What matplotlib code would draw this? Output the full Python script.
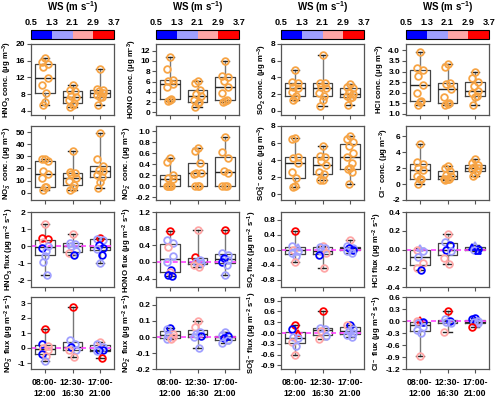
import matplotlib
matplotlib.use("Agg")
import matplotlib.pyplot as plt
import numpy as np
from matplotlib.colors import ListedColormap, BoundaryNorm
from matplotlib.cm import ScalarMappable
from matplotlib.ticker import FormatStrFormatter

plt.rcParams['font.family'] = ['Liberation Sans', 'DejaVu Sans']
plt.rcParams['font.weight'] = 'bold'
plt.rcParams['mathtext.fontset'] = 'custom'
plt.rcParams['mathtext.rm'] = 'Liberation Sans:bold'
plt.rcParams['mathtext.bf'] = 'Liberation Sans:bold'
plt.rcParams['mathtext.it'] = 'Liberation Sans:bold'
plt.rcParams['mathtext.default'] = 'bf'

periods = ['08:00-\n12:00', '12:30-\n16:30', '17:00-\n21:00']
ws_edges = [0.5, 1.3, 2.1, 2.9, 3.7]
ws_colors = ['#0000ff', '#a0a0ff', '#ffa6a6', '#ff0000']

# concentrations (one list per time window)
hno3_conc = [[16.7, 15.6, 15.2, 14.6, 11.8, 10.1, 8.2, 6.0, 5.5],
             [10.3, 9.0, 8.8, 7.6, 7.2, 6.5, 5.9, 5.5, 4.8],
             [14.0, 9.2, 9.0, 8.8, 8.3, 7.8, 7.4, 7.2, 5.4]]
hono_conc = [[10.7, 8.5, 6.4, 6.2, 5.5, 5.0, 2.6, 2.5, 2.2],
             [6.1, 5.8, 4.4, 3.6, 3.2, 2.4, 2.0, 1.8, 1.0],
             [10.0, 7.1, 6.9, 6.2, 4.9, 3.7, 2.5, 2.3, 2.0]]
so2_conc = [[4.9, 3.4, 3.3, 2.8, 2.7, 2.2, 1.8, 1.5, 1.3],
            [6.7, 3.3, 3.3, 2.8, 2.7, 2.1, 1.8, 1.3, 0.6],
            [3.2, 2.8, 2.7, 2.3, 2.0, 1.8, 1.6, 1.5, 0.7]]
hcl_conc = [[3.9, 3.15, 3.05, 2.8, 2.35, 2.0, 1.6, 1.55, 1.4],
            [3.35, 3.2, 2.45, 2.4, 2.2, 1.8, 1.5, 1.45, 1.4],
            [3.0, 2.7, 2.5, 2.3, 2.1, 2.0, 1.85, 1.8, 1.4]]
no3_conc = [[28, 27.5, 26, 18, 15.5, 12.5, 5, 4.5, 2],
            [34, 17, 16.5, 15.5, 12.5, 10, 6, 4, 2.5],
            [49, 27.5, 22, 19, 18, 15, 13, 9, 4]]
no2_conc = [[0.52, 0.45, 0.2, 0.15, 0.13, 0.0, 0.0, 0.0, 0.0],
            [0.70, 0.65, 0.43, 0.25, 0.24, 0.22, 0.0, 0.0, 0.0],
            [0.90, 0.62, 0.51, 0.28, 0.24, 0.0, 0.0, 0.0]]
so4_conc = [[6.6, 6.5, 4.4, 4.2, 3.6, 2.6, 1.9, 0.9, 0.8],
            [5.6, 4.5, 4.3, 3.9, 3.4, 2.6, 2.4, 1.7, 1.6],
            [6.8, 6.5, 6.1, 5.7, 4.8, 4.3, 3.6, 3.1, 2.9, 2.6, 1.2]]
cl_conc = [[5.1, 2.8, 2.5, 2.0, 1.8, 1.0, 0.7, 0.6, 0.0],
           [2.3, 2.0, 1.6, 1.1, 1.0, 0.7, 0.65, 0.6, 0.5],
           [3.2, 2.6, 2.4, 2.1, 2.0, 1.9, 1.6, 1.3, 1.0]]

# fluxes, with wind-speed class (0..3) of every point
hno3_flux = [[1.28, 0.45, 0.42, 0.25, 0.0, -0.1, -0.3, -0.6, -0.92, -1.7],
             [0.7, 0.2, 0.15, 0.0, -0.3, -0.4, -0.55],
             [0.5, 0.42, 0.38, 0.05, -0.1, -0.15, -0.5, -1.0]]
hno3_ws = [[2, 3, 3, 2, 1, 0, 1, 1, 1, 1], [2, 1, 1, 1, 1, 2, 0], [3, 1, 1, 0, 0, 1, 0, 1]]
hono_flux = [[0.75, 0.53, 0.45, 0.35, 0.15, 0.0, -0.18, -0.25, -0.3, -0.33],
             [0.78, 0.12, 0.05, 0.0, -0.03, -0.08, -0.12],
             [0.76, 0.21, 0.18, 0.1, 0.05, 0.0, -0.07, -0.3]]
hono_ws = [[3, 1, 1, 2, 1, 1, 0, 2, 0, 0], [2, 3, 1, 1, 1, 2, 2], [3, 1, 1, 0, 1, 0, 1, 1]]
so2_flux = [[0.5, 0.1, 0.07, 0.0, -0.05, -0.1, -0.18, -0.32],
            [0.1, 0.08, 0.03, -0.05, -0.1, -0.15, -0.48],
            [0.26, 0.1, 0.05, 0.03, 0.0, -0.05, -0.1]]
so2_ws = [[3, 1, 1, 2, 1, 1, 1, 2], [2, 1, 1, 1, 2, 0, 2], [2, 1, 1, 0, 0, 1, 1]]
so2_tri = [[2], [], []]
hcl_flux = [[0.02, 0.0, -0.02, -0.08, -0.14, -0.2, -0.22],
            [0.17, 0.08, 0.05, 0.0, -0.02, -0.09, -0.15],
            [0.05, 0.03, 0.01, 0.0, -0.02]]
hcl_ws = [[1, 2, 1, 1, 2, 2, 0], [2, 1, 0, 0, 1, 2, 2], [1, 0, 0, 1, 0]]
hcl_tri = [[0], [], [0, 1, 4]]
no3_flux = [[1.25, 0.3, 0.15, 0.0, -0.1, -0.4, -0.5, -0.85],
            [2.75, 0.52, 0.3, 0.1, -0.1, -0.15, -0.6],
            [0.4, 0.3, 0.1, -0.1, -0.15, -0.2, -0.65]]
no3_ws = [[3, 0, 2, 2, 2, 0, 2, 1], [3, 1, 1, 0, 1, 2, 2], [2, 1, 1, 0, 0, 1, 3]]
no2_flux = [[0.055, 0.05, 0.02, 0.01, 0.0, -0.01, -0.015],
            [0.1, 0.06, 0.03, 0.02, 0.005, 0.0, -0.07],
            [0.03, 0.01, 0.005, -0.005, -0.02, -0.04]]
no2_ws = [[0, 1, 2, 1, 2, 1, 2], [2, 2, 1, 1, 0, 1, 1], [1, 1, 0, 0, 1, 1]]
so4_flux = [[0.23, 0.12, 0.0, -0.1, -0.15, -0.25, -0.35, -0.62],
            [0.6, 0.15, 0.1, 0.05, -0.08, -0.18],
            [0.23, 0.22, 0.1, 0.05, 0.0, -0.05, -0.12]]
so4_ws = [[3, 0, 3, 1, 1, 2, 1, 2], [3, 1, 1, 2, 1, 2], [0, 2, 1, 1, 1, 1, 1]]
so4_tri = [[2], [], []]
cl_flux = [[0.03, 0.0, -0.02, -0.05, -0.15, -0.22, -0.3, -0.87],
           [0.26, 0.05, 0.0, -0.02, -0.05, -0.27],
           [0.08, 0.04, 0.0, -0.03, -0.06, -0.15]]
cl_ws = [[3, 2, 0, 1, 1, 1, 1, 2], [3, 1, 0, 1, 1, 2], [0, 0, 1, 1, 1, 3]]
cl_tri = [[0], [], []]

unit_c = ' conc. (μg m$^{-3}$)'
unit_f = ' flux (μg m$^{-2}$ s$^{-1}$)'
conc_panels = [
    [(hno3_conc, 'HNO$_3$', (3, 20), np.arange(4, 21, 4), '%d'),
     (hono_conc, 'HONO', (-0.5, 13.3), np.arange(0, 13, 2), '%d'),
     (so2_conc, 'SO$_2$', (-0.5, 8), np.arange(0, 9, 2), '%d'),
     (hcl_conc, 'HCl', (0.95, 4.3), np.arange(1, 4.01, 0.5), '%.1f')],
    [(no3_conc, 'NO$_3^-$', (-6, 55), np.arange(0, 51, 10), '%d'),
     (no2_conc, 'NO$_2^-$', (-0.25, 1.1), np.arange(-0.2, 1.01, 0.2), '%.1f'),
     (so4_conc, 'SO$_4^{2-}$', (-0.7, 8), np.arange(0, 9, 2), '%d'),
     (cl_conc, 'Cl$^-$', (-2, 7.3), np.arange(-2, 7, 2), '%d')],
]
flux_panels = [
    [(hno3_flux, hno3_ws, None, 'HNO$_3$', (-2.4, 2), np.arange(-2, 2.1, 1), '%d'),
     (hono_flux, hono_ws, None, 'HONO', (-0.6, 1.2), np.arange(-0.4, 1.21, 0.4), '%.1f'),
     (so2_flux, so2_ws, so2_tri, 'SO$_2$', (-1, 1), np.arange(-0.8, 0.81, 0.4), '%.1f'),
     (hcl_flux, hcl_ws, hcl_tri, 'HCl', (-0.4, 0.4), np.arange(-0.4, 0.41, 0.2), '%.1f')],
    [(no3_flux, no3_ws, None, 'NO$_3^-$', (-1.4, 3.4), np.arange(-1, 3.1, 1), '%d'),
     (no2_flux, no2_ws, None, 'NO$_2^-$', (-0.2, 0.25), np.arange(-0.2, 0.21, 0.1), '%.1f'),
     (so4_flux, so4_ws, so4_tri, 'SO$_4^{2-}$', (-1, 1), np.arange(-0.9, 0.91, 0.3), '%.1f'),
     (cl_flux, cl_ws, cl_tri, 'Cl$^-$', (-1.2, 0.6), np.arange(-1.2, 0.61, 0.3), '%.1f')],
]

jit = [0.0, -0.1, 0.1, -0.05, 0.12, -0.12, 0.05, 0.0, -0.08, 0.08, -0.03, 0.03]

W, H = 500, 401
fig = plt.figure(figsize=(W / 100, H / 100), dpi=100)
lefts = [31, 156, 281, 406]
tops = [44, 126, 212, 297]
heights = [71, 74, 75, 72]
aw = 83


def make_ax(r, c):
    ax = fig.add_axes([lefts[c] / W, 1 - (tops[r] + heights[r]) / H, aw / W, heights[r] / H])
    for s in ax.spines.values():
        s.set_linewidth(0.9)
        s.set_color('#555555')
    ax.tick_params(direction='out', length=3, width=0.8, labelsize=6, pad=1.2, color='#555555')
    return ax


def draw_box(ax, groups):
    ax.boxplot(groups, positions=[1, 2, 3], widths=0.72, whis=(0, 100), showfliers=False,
               capwidths=0.3,
               boxprops=dict(color='#444444', lw=0.9),
               medianprops=dict(color='#222222', lw=1.0),
               whiskerprops=dict(color='#777777', lw=1.0),
               capprops=dict(color='#222222', lw=1.0))


def finish(ax, r, ylim, yt, fmt, label):
    ax.set_xlim(0.5, 3.5)
    ax.set_ylim(*ylim)
    ax.set_yticks(yt)
    ax.yaxis.set_major_formatter(FormatStrFormatter(fmt))
    ax.set_xticks([1, 2, 3])
    if r == 3:
        ax.set_xticklabels(periods, fontsize=6.3, fontweight='bold', linespacing=1.35)
        ax.tick_params(axis='x', pad=3.5)
    else:
        ax.set_xticklabels([])
    ax.set_ylabel(label, fontsize=5.6, fontweight='bold', labelpad=1)


for r, row in enumerate(conc_panels):
    for c, (groups, name, ylim, yt, fmt) in enumerate(row):
        ax = make_ax(r, c)
        draw_box(ax, groups)
        for i, g in enumerate(groups):
            xs = [i + 1 + jit[k % len(jit)] for k in range(len(g))]
            ax.plot(xs, g, 'o', ms=4.8, mfc='none', mec='#f7a445', mew=1.3, zorder=3)
        finish(ax, r, ylim, yt, fmt, name + unit_c)

for rr, row in enumerate(flux_panels):
    r = rr + 2
    for c, (groups, ws, tri, name, ylim, yt, fmt) in enumerate(row):
        ax = make_ax(r, c)
        draw_box(ax, groups)
        ax.axhline(0, color='#ff44ff', ls=(0, (3, 2)), lw=1.2, zorder=2.5)
        for i, g in enumerate(groups):
            for k, v in enumerate(g):
                mk = '^' if (tri is not None and k in tri[i]) else 'o'
                ax.plot(i + 1 + jit[k % len(jit)], v, mk, ms=4.8, mfc='none',
                        mec=ws_colors[ws[i][k]], mew=1.3, zorder=3)
        finish(ax, r, ylim, yt, fmt, name + unit_f)

cmap = ListedColormap(ws_colors)
norm = BoundaryNorm(ws_edges, cmap.N)
for c in range(4):
    cax = fig.add_axes([lefts[c] / W, 1 - 39 / H, aw / W, 9 / H])
    cb = fig.colorbar(ScalarMappable(norm=norm, cmap=cmap), cax=cax,
                      orientation='horizontal', ticklocation='top')
    cb.set_ticks(ws_edges)
    cb.set_ticklabels([str(v) for v in ws_edges])
    cax.tick_params(length=0, labelsize=6.6, pad=2)
    cb.outline.set_linewidth(0.8)
    cb.set_label('WS (m s$^{-1}$)', fontsize=7, fontweight='bold', labelpad=5)

fig.savefig('out.png', dpi=100)
